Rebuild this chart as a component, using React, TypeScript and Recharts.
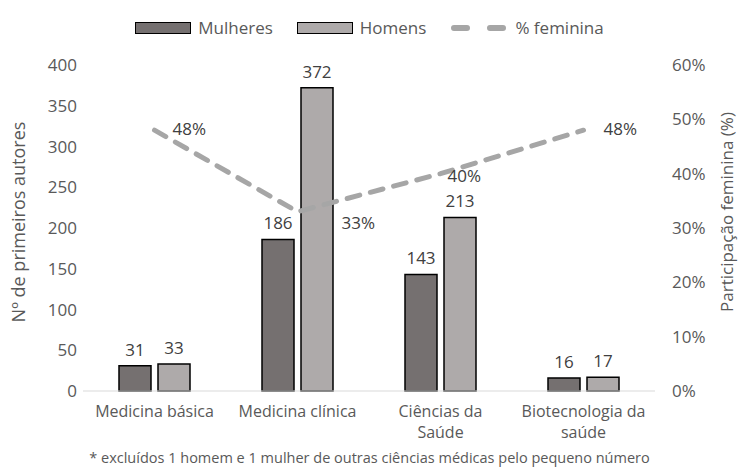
import { ComposedChart, Bar, Line, XAxis, YAxis, LabelList } from 'recharts';

// ─── Data ─────────────────────────────────────────────────────
const categories = ['Medicina básica', 'Medicina clínica', 'Ciências da\nSaúde', 'Biotecnologia da\nsaúde'];
const mulheres = [31, 186, 143, 16];
const homens = [33, 372, 213, 17];
const pctFeminina = [0.48, 0.33, 0.40, 0.48];
const leftTicks = [0, 50, 100, 150, 200, 250, 300, 350, 400];
const rightTicks = [0, 0.1, 0.2, 0.3, 0.4, 0.5, 0.6];

const data = categories.map((c, i) => ({
    cat: c,
    mulheres: mulheres[i],
    homens: homens[i],
    pct: pctFeminina[i],
}));

const FONT = '"Open Sans", "Noto Sans", sans-serif';
const TEXT = '#595959';
const LABEL = '#404040';
const C_MULHERES = '#757070';
const C_HOMENS = '#aeaaaa';
const C_LINE = '#a6a6a6';

// label offsets for the % line (Excel-like placement)
const PCT_DX = [18, 44, 7, 20];
const PCT_DY = [0, 13, 4, 0];

// eslint-disable-next-line @typescript-eslint/no-explicit-any
const CatTick = ({ x, y, payload }: any) => {
    const lines = String(payload.value).split('\n');
    return (
        <text x={x} y={y + 18} textAnchor="middle" fill={TEXT} fontSize={16} fontFamily={FONT}>
            {lines.map((l, i) => (
                <tspan key={i} x={x} dy={i === 0 ? 0 : 21}>{l}</tspan>
            ))}
        </text>
    );
};

// eslint-disable-next-line @typescript-eslint/no-explicit-any
const PctLabel = ({ x, y, value, index }: any) => (
    <text x={x + PCT_DX[index]} y={y + PCT_DY[index]} dominantBaseline="middle" fill={LABEL} fontSize={17} fontFamily={FONT}>
        {`${Math.round(value * 100)}%`}
    </text>
);

const Legend = () => (
    <div style={{ position: 'absolute', top: 16, left: 0, width: 739, display: 'flex', justifyContent: 'center', gap: 24, fontFamily: FONT, fontSize: 17, color: TEXT, alignItems: 'center' }}>
        <span style={{ display: 'flex', alignItems: 'center', gap: 7 }}>
            <span style={{ width: 54, height: 10, background: C_MULHERES, border: '1px solid #000' }} />Mulheres
        </span>
        <span style={{ display: 'flex', alignItems: 'center', gap: 7 }}>
            <span style={{ width: 54, height: 10, background: C_HOMENS, border: '1px solid #000' }} />Homens
        </span>
        <span style={{ display: 'flex', alignItems: 'center', gap: 7 }}>
            <svg width={58} height={10}><line x1={4} y1={5} x2={56} y2={5} stroke={C_LINE} strokeWidth={6} strokeLinecap="round" strokeDasharray="13 23" /></svg>% feminina
        </span>
    </div>
);

export default function App() {
    return (
        <div style={{ position: 'absolute', top: 0, left: 0, width: 739, height: 473, background: '#fff' }}>
            <Legend />
            <ComposedChart width={739} height={473} data={data} margin={{ top: 65, right: 24, left: 23, bottom: 22 }} barGap={7} barCategoryGap="25%">
                <XAxis dataKey="cat" tick={<CatTick />} tickLine={false} axisLine={{ stroke: '#d9d9d9' }} interval={0} height={60} />
                <YAxis yAxisId="l" domain={[0, 400]} ticks={leftTicks} width={60} axisLine={false} tickLine={false}
                    tick={{ fill: TEXT, fontSize: 17, fontFamily: FONT }} tickMargin={0} />
                <YAxis yAxisId="r" orientation="right" domain={[0, 0.6]} ticks={rightTicks} width={60} axisLine={false} tickLine={false}
                    tickFormatter={(v) => `${Math.round(v * 100)}%`} tick={{ fill: TEXT, fontSize: 17, fontFamily: FONT }} tickMargin={11} />
                <Bar yAxisId="l" dataKey="mulheres" fill={C_MULHERES} stroke="#000" strokeWidth={1.5} barSize={32} isAnimationActive={false}>
                    <LabelList dataKey="mulheres" position="top" offset={10} fill={LABEL} fontSize={17} fontFamily={FONT} />
                </Bar>
                <Bar yAxisId="l" dataKey="homens" fill={C_HOMENS} stroke="#000" strokeWidth={1.5} barSize={32} isAnimationActive={false}>
                    <LabelList dataKey="homens" position="top" offset={10} fill={LABEL} fontSize={17} fontFamily={FONT} />
                </Bar>
                <Line yAxisId="r" dataKey="pct" stroke={C_LINE} strokeWidth={5} strokeDasharray="13 11" strokeLinecap="round"
                    dot={false} activeDot={false} isAnimationActive={false}>
                    <LabelList dataKey="pct" content={<PctLabel />} />
                </Line>
            </ComposedChart>
            <div style={{ position: 'absolute', left: 0, top: 448, width: 739, textAlign: 'center', fontFamily: FONT, fontSize: 14.5, color: TEXT }}>
                * excluídos 1 homem e 1 mulher de outras ciências médicas pelo pequeno número
            </div>
            <div style={{ position: 'absolute', left: 18, top: 222, transform: 'translate(-50%, -50%) rotate(-90deg)', whiteSpace: 'nowrap', fontFamily: FONT, fontSize: 18, color: TEXT }}>
                Nº de primeiros autores
            </div>
            <div style={{ position: 'absolute', left: 726, top: 212, transform: 'translate(-50%, -50%) rotate(-90deg)', whiteSpace: 'nowrap', fontFamily: FONT, fontSize: 17, color: TEXT }}>
                Participação feminina (%)
            </div>
        </div>
    );
}
